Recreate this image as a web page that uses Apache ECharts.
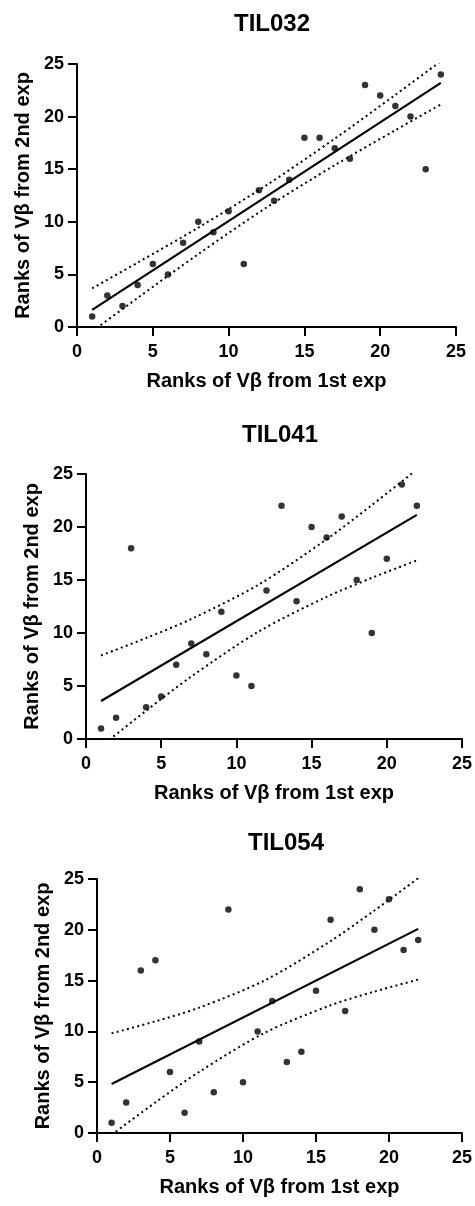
<!DOCTYPE html>
<html>
<head>
<meta charset="utf-8">
<script src="https://cdn.jsdelivr.net/npm/echarts@6/dist/echarts.min.js"></script>
<style>
html,body{margin:0;padding:0;background:#fff;}
#c{width:475px;height:1206px;}
</style>
</head>
<body>
<div id="c"></div>
<script>
// ---------- data ----------
const panelTitles = ['TIL032', 'TIL041', 'TIL054'];
const xAxisName = 'Ranks of Vβ from 1st exp';
const yAxisName = 'Ranks of Vβ from 2nd exp';
const axisTicks = [0, 5, 10, 15, 20, 25];

// TIL032
const til032X = [1,2,3,4,5,6,7,8,9,10,11,12,13,14,15,16,17,18,19,20,21,22,23,24];
const til032Y = [1,3,2,4,6,5,8,10,9,11,6,13,12,14,18,18,17,16,23,22,21,20,15,24];
const til032FitX = [1, 24];
const til032FitY = [1.63, 23.21];
const til032CiX = [1, 4, 8, 12.5, 17, 21, 24];
const til032CiUpper = [3.68, 6.12, 9.45, 13.48, 17.90, 22.07, 25.26];
const til032CiLower = [-0.42, 2.76, 6.93, 11.36, 15.38, 18.71, 21.16];

// TIL041
const til041X = [1,2,3,4,5,6,7,8,9,10,11,12,13,14,15,16,17,18,19,20,21,22];
const til041Y = [1,2,18,3,4,7,9,8,12,6,5,14,22,13,20,19,21,15,10,17,24,22];
const til041FitX = [1, 22];
const til041FitY = [3.59, 21.14];
const til041CiX = [1, 4, 7, 11.5, 16, 19, 22];
const til041CiUpper = [7.88, 9.53, 11.32, 14.58, 18.84, 22.06, 25.43];
const til041CiLower = [-0.70, 2.67, 5.89, 10.15, 13.41, 15.20, 16.85];

// TIL054
const til054X = [1,2,3,4,5,6,7,8,9,10,11,12,13,14,15,16,17,18,19,20,21,22];
const til054Y = [1,3,16,17,6,2,9,4,22,5,10,13,7,8,14,21,12,24,20,23,18,19];
const til054FitX = [1, 22];
const til054FitY = [4.82, 20.09];
const til054CiX = [1, 4, 7, 11.5, 16, 19, 22];
const til054CiUpper = [9.81, 10.99, 12.34, 15.03, 18.89, 21.90, 25.08];
const til054CiLower = [-0.17, 3.01, 6.02, 9.87, 12.57, 13.92, 15.10];

// ---------- layout ----------
const FONT = '"Liberation Sans", Arial, Helvetica, sans-serif';
const panels = [
  {x: til032X, y: til032Y, fx: til032FitX, fy: til032FitY, cx: til032CiX, cu: til032CiUpper, cl: til032CiLower,
   grid: {left: 77, right: 19, top: 64, height: 263}, titleX: 267, titleY: 7, yGap: 34},
  {x: til041X, y: til041Y, fx: til041FitX, fy: til041FitY, cx: til041CiX, cu: til041CiUpper, cl: til041CiLower,
   grid: {left: 86, right: 10, top: 474, height: 265}, titleX: 275, titleY: 418, yGap: 35},
  {x: til054X, y: til054Y, fx: til054FitX, fy: til054FitY, cx: til054CiX, cu: til054CiUpper, cl: til054CiLower,
   grid: {left: 97, right: 12, top: 879, height: 254}, titleX: 281, titleY: 826, yGap: 36}
];

const zip = (a, b) => a.map((v, i) => [v, b[i]]);
const lineBase = {type: 'line', showSymbol: false, symbol: 'none', silent: true, animation: false, clip: true};

const grids = [], xAxes = [], yAxes = [], titles = [], series = [];
panels.forEach((p, i) => {
  grids.push(Object.assign({containLabel: false}, p.grid));
  titles.push({
    text: panelTitles[i], left: p.titleX, top: p.titleY, textAlign: 'center',
    textStyle: {fontFamily: FONT, fontWeight: 'bold', fontSize: 24, color: '#000'}
  });
  const axisCommon = {
    type: 'value', gridIndex: i, min: axisTicks[0], max: axisTicks[axisTicks.length - 1], interval: 5,
    nameLocation: 'middle',
    nameTextStyle: {fontFamily: FONT, fontWeight: 'bold', fontSize: 20, color: '#000'},
    axisLine: {show: true, onZero: false, lineStyle: {color: '#000', width: 2}},
    axisTick: {show: true, inside: false, length: 9, lineStyle: {color: '#000', width: 2}},
    splitLine: {show: false}
  };
  xAxes.push(Object.assign({}, axisCommon, {
    name: xAxisName, nameGap: 44,
    axisLabel: {fontFamily: FONT, fontWeight: 'bold', fontSize: 18, color: '#000', margin: 16}
  }));
  yAxes.push(Object.assign({}, axisCommon, {
    name: yAxisName, nameGap: p.yGap,
    axisLabel: {fontFamily: FONT, fontWeight: 'bold', fontSize: 18, color: '#000', margin: 13}
  }));
  series.push(Object.assign({}, lineBase, {
    xAxisIndex: i, yAxisIndex: i, data: zip(p.cx, p.cu), smooth: 0.3,
    lineStyle: {color: '#000', width: 2, type: [2, 3.3]}
  }));
  series.push(Object.assign({}, lineBase, {
    xAxisIndex: i, yAxisIndex: i, data: zip(p.cx, p.cl), smooth: 0.3,
    lineStyle: {color: '#000', width: 2, type: [2, 3.3]}
  }));
  series.push(Object.assign({}, lineBase, {
    xAxisIndex: i, yAxisIndex: i, data: zip(p.fx, p.fy),
    lineStyle: {color: '#000', width: 2.2, type: 'solid'}
  }));
  series.push({
    type: 'scatter', xAxisIndex: i, yAxisIndex: i, data: zip(p.x, p.y),
    symbol: 'circle', symbolSize: 6.5, itemStyle: {color: '#000'}, silent: true, animation: false
  });
});

const chart = echarts.init(document.getElementById('c'), null, {renderer: 'canvas'});
chart.setOption({
  backgroundColor: '#fff',
  animation: false,
  title: titles,
  grid: grids,
  xAxis: xAxes,
  yAxis: yAxes,
  series: series
});
</script>
</body>
</html>
